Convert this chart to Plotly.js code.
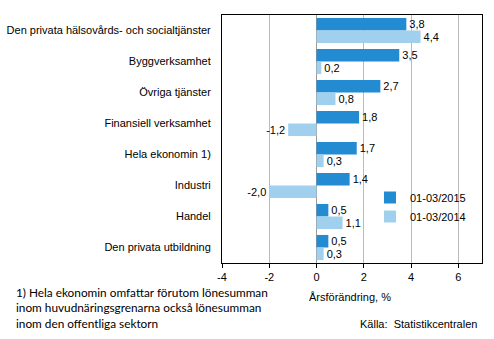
<!DOCTYPE html>
<html><head><meta charset="utf-8">
<script src="https://cdn.plot.ly/plotly-3.0.1.min.js"></script>
<style>body{margin:0;padding:0;background:#fff}#c{width:494px;height:339px}</style>
</head><body><div id="c"></div>
<script>
const categories = ["Den privata hälsovårds- och socialtjänster","Byggverksamhet","Övriga tjänster","Finansiell verksamhet","Hela ekonomin 1)","Industri","Handel","Den privata utbildning"];
const series2015 = [3.8,3.5,2.7,1.8,1.7,1.4,0.5,0.5];
const series2014 = [4.4,0.2,0.8,-1.2,0.3,-2.0,1.1,0.3];
const name2015 = "01-03/2015";
const name2014 = "01-03/2014";
const xTicks = [-4,-2,0,2,4,6];
const footnote = ["1) Hela ekonomin omfattar förutom lönesumman","inom huvudnäringsgrenarna också lönesumman","inom den offentliga sektorn"];

const W = 494, H = 339, ML = 222, MR = 12, MT = 15, MB = 76;
const PW = W-ML-MR, PH = H-MT-MB;
const px = x => (x-ML)/PW, py = y => (H-MB-y)/PH;

const font = {family:"Liberation Sans, Arial, sans-serif", size:11, color:"#000"};
const mk = (name, vals, color) => ({
  type:"bar", orientation:"h", name:name, y:categories, x:vals, showlegend:false,
  marker:{color:color}, text:vals.map(v=>v.toFixed(1).replace('.',',')),
  textposition:"outside", cliponaxis:false, textfont:font, hoverinfo:"skip"
});
const leg = (name, color) => ({type:"scatter", mode:"markers", name:name, x:[null], y:[null],
  marker:{symbol:"square", size:6, color:color}, showlegend:true});
const data = [mk(name2015, series2015, "#228BD2"), mk(name2014, series2014, "#A0D0EE"),
  leg(name2015, "#228BD2"), leg(name2014, "#A0D0EE")];
const fnFont = {family:"Lato, Open Sans, sans-serif",size:11.8,color:"#000"};
const annotations = [{xref:"paper",yref:"paper",x:px(14),y:py(283),xanchor:"left",yanchor:"top",align:"left",
  showarrow:false,text:footnote.join("<br>"),font:fnFont}];
annotations.push({xref:"paper",yref:"paper",x:px(307),y:py(297),xanchor:"left",yanchor:"middle",showarrow:false,text:"Årsförändring, %",font:font});
annotations.push({xref:"paper",yref:"paper",x:px(479),y:py(324),xanchor:"right",yanchor:"middle",showarrow:false,text:"Källa:  Statistikcentralen",font:font});
const layout = {
  width:W, height:H, margin:{l:ML,r:MR,t:MT,b:MB,autoexpand:false},
  paper_bgcolor:"#fff", plot_bgcolor:"#fff", font:font,
  barmode:"group", bargap:0.19, bargroupgap:0, separators:", ",
  showlegend:true,
  legend:{x:px(370),y:py(183),xanchor:"left",yanchor:"top",bgcolor:"rgba(255,255,255,0)",font:font,itemwidth:30,tracegroupgap:0,
    traceorder:"normal", itemsizing:"constant"},
  xaxis:{range:[-4,7], tickvals:xTicks, ticktext:xTicks.map(String), showgrid:true, gridcolor:"#BBBBBB", gridwidth:1,
    zeroline:true, zerolinecolor:"#999", zerolinewidth:1, showline:true, linecolor:"#000", linewidth:1, mirror:true,
    ticks:"outside", ticklen:4, tickcolor:"#000", tickfont:font, fixedrange:true, automargin:false},
  yaxis:{type:"category", autorange:"reversed", showgrid:false, zeroline:false, showline:true, linecolor:"#000", linewidth:1, mirror:true,
    ticks:"", ticklabelstandoff:8, tickfont:font, fixedrange:true, automargin:false},
  annotations:annotations
};
Plotly.newPlot("c", data, layout, {displayModeBar:false, staticPlot:true});
</script></body></html>
